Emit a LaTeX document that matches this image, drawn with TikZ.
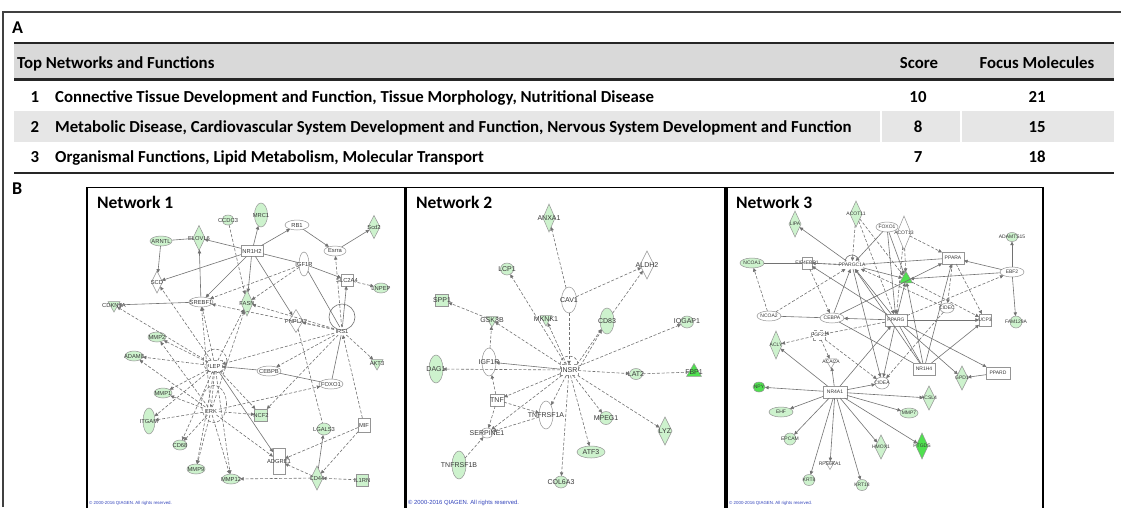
\documentclass[tikz,border=0pt]{standalone}
\usepackage{fontspec}
\setmainfont{Carlito}
\newfontfamily\lblfont{Liberation Sans}
\usetikzlibrary{shapes.geometric,arrows.meta}
\definecolor{lgr}{HTML}{CDF2CD}
\definecolor{bgr}{HTML}{4FE04F}
\definecolor{ndr}{HTML}{959595}
\definecolor{edg}{HTML}{727272}
\definecolor{hdr}{HTML}{D9D9D9}
\definecolor{rwb}{HTML}{E6E6E6}
\definecolor{cpy}{HTML}{3344BB}
\definecolor{ltx}{HTML}{383838}
\begin{document}
\begin{tikzpicture}[x=1pt,y=-1pt,
  nd/.style={inner sep=0pt,outer sep=0pt,line width=0.5pt,draw=ndr},
  lg/.style={nd,fill=lgr}, bg/.style={nd,fill=bgr}, wh/.style={nd,fill=white},
  hid/.style={inner sep=0pt,outer sep=0pt,minimum width=16pt,minimum height=8pt},
  elw/.style={ellipse,minimum width=24pt,minimum height=10pt},
  elt/.style={ellipse,minimum width=13pt,minimum height=26pt},
  els/.style={ellipse,minimum width=13pt,minimum height=11pt},
  dia/.style={diamond,minimum width=12pt,minimum height=26pt},
  rct/.style={rectangle,minimum width=22pt,minimum height=11pt},
  sq/.style={rectangle,minimum width=12pt,minimum height=12pt},
  tri/.style={regular polygon,regular polygon sides=3,shape border rotate=180,minimum size=14pt},
  trup/.style={regular polygon,regular polygon sides=3,minimum size=17pt},
  lbl/.style={font=\lblfont\fontsize{5.8}{6}\selectfont,text=ltx,inner sep=0pt},
  tx/.style={label={[lbl]center:#1}},
  sl/.style={draw=edg,line width=0.6pt},
  sla/.style={sl,-{Triangle[length=3.6pt,width=3.4pt]}},
  dl/.style={sl,dash pattern=on 3pt off 1.8pt},
  dla/.style={dl,-{Triangle[length=3.6pt,width=3.4pt]}},
  tbl/.style={font=\fontsize{16.8}{19}\selectfont\bfseries,inner sep=0pt},
  ttl/.style={font=\fontsize{17.5}{20}\selectfont\bfseries,inner sep=0pt,anchor=base west},
  cp/.style={font=\lblfont\fontsize{4.4}{5}\selectfont,text=cpy,inner sep=0pt,anchor=base west},
  panel/.style={draw=black,line width=1.6pt}
]
\useasboundingbox (0,0) rectangle (1121,507);
\fill[white] (0,0) rectangle (1121,507);
% frame
\draw[line width=1.1pt,black!75] (3,507) -- (3,12) -- (1121,12);
\node[font=\fontsize{18}{20}\selectfont\bfseries,inner sep=0pt,anchor=base west] (labA) at (12,33) {A};
\node[font=\fontsize{18}{20}\selectfont\bfseries,inner sep=0pt,anchor=base west] (labB) at (12,194) {B};
% table
\fill[hdr] (14,44) rectangle (1114,78);
\fill[rwb] (14,111) rectangle (879.5,142);
\fill[rwb] (881.5,111) rectangle (959.5,142);
\fill[rwb] (961.5,111) rectangle (1114,142);
\draw[line width=2pt,black!85] (14,43) -- (1114,43);
\draw[line width=2.6pt,black!85] (14,79.5) -- (1114,79.5);
\draw[line width=2pt,black!85] (14,173) -- (1114,173);
\node[tbl,anchor=base west] (hT) at (17,68.5) {Top Networks and Functions};
\node[tbl,anchor=base] (hS) at (919,68.5) {Score};
\node[tbl,anchor=base] (hF) at (1037,68.5) {Focus Molecules};
\node[tbl,anchor=base] (n1) at (35,102.5) {1};
\node[tbl,anchor=base west] (t1) at (55,102.5) {Connective Tissue Development and Function, Tissue Morphology, Nutritional Disease};
\node[tbl,anchor=base] (s1) at (918,102.5) {10};
\node[tbl,anchor=base] (f1) at (1037,102.5) {21};
\node[tbl,anchor=base] (n2) at (35,132.5) {2};
\node[tbl,anchor=base west] (t2) at (55,132.5) {Metabolic Disease, Cardiovascular System Development and Function, Nervous System Development and Function};
\node[tbl,anchor=base] (s2) at (918,132.5) {8};
\node[tbl,anchor=base] (f2) at (1037,132.5) {15};
\node[tbl,anchor=base] (n3) at (35,162.5) {3};
\node[tbl,anchor=base west] (t3) at (55,162.5) {Organismal Functions, Lipid Metabolism, Molecular Transport};
\node[tbl,anchor=base] (s3) at (918,162.5) {7};
\node[tbl,anchor=base] (f3) at (1037,162.5) {18};
% panels
\draw[panel] (87,508) -- (87,187.5) -- (405,187.5) -- (405,508);
\draw[panel] (406.5,508) -- (406.5,187.5) -- (725,187.5) -- (725,508);
\draw[panel] (727,508) -- (727,187.5) -- (1043,187.5) -- (1043,508);
\node[ttl] (ttl1) at (97,208) {Network 1};
\node[ttl] (ttl2) at (416,208) {Network 2};
\node[ttl] (ttl3) at (736,208) {Network 3};
\node[cp] (cp1) at (89,504) {\textcopyright{} 2000-2016 QIAGEN. All rights reserved.};
\node[cp,font=\lblfont\fontsize{5.9}{6}\selectfont] (cp2) at (408,504.5) {\textcopyright{} 2000-2016 QIAGEN. All rights reserved.};
\node[cp] (cp3) at (729,504) {\textcopyright{} 2000-2016 QIAGEN. All rights reserved.};

% ---------------- Network 1 ----------------
\begin{scope}
\node[lg,els,minimum width=12pt,minimum height=10pt,tx=CCDC3] (a1) at (228,220) {};
\node[lg,elt,minimum height=24pt,tx=MRC1] (a2) at (261,215) {};
\node[wh,elw,tx=RB1] (a3) at (297,225) {};
\node[lg,dia,minimum height=23pt,tx=Scd2] (a4) at (374,227) {};
\node[lg,elw,minimum width=22pt,tx=ARNTL] (a5) at (161,241) {};
\node[lg,dia,minimum height=25pt,tx=ELOVL6] (a6) at (199,238) {};
\node[wh,rct,tx=NR1H2] (a7) at (252,251) {};
\node[wh,elw,minimum width=22pt,tx=Esrra] (a8) at (335,251) {};
\node[wh,elt,minimum width=10pt,minimum height=24pt,tx=IGF1R] (a9) at (304,264) {};
\node[wh,dia,minimum width=11pt,minimum height=22pt,tx=SCD] (a10) at (157,282) {};
\node[wh,sq,tx=SLC2A4] (a11) at (347,280) {};
\node[lg,els,minimum width=15pt,minimum height=10pt,tx=LNPEP] (a12) at (381,288) {};
\node[lg,tri,tx=CDKN1A] (a13) at (114,305) {};
\node[wh,elw,tx=SREBF1] (a14) at (201,302) {};
\node[lg,dia,tx=FASN] (a15) at (247,303) {};
\node[wh,dia,minimum width=14pt,minimum height=23pt,tx=PNPLA2] (a16) at (296,321) {};
\node[hid,tx=IRS1] (a17) at (342,331) {};
\node[lg,elw,minimum width=18pt,tx=MMP2] (a18) at (157,337) {};
\node[lg,elw,minimum width=18pt,tx=ADAM8] (a19) at (134,356) {};
\node[lg,tri,tx=AKT3] (a20) at (377,363) {};
\node[wh,rectangle,dashed,minimum width=14pt,minimum height=11pt,tx=LEP] (a21) at (215,366) {};
\node[wh,elw,tx=CEBPB] (a22) at (269,371) {};
\node[wh,elw,tx=FOXO1] (a23) at (331,384) {};
\node[lg,elw,minimum width=18pt,tx=MMP1] (a24) at (163,393) {};
\node[hid,tx=ERK] (a25) at (211,411) {};
\node[lg,elt,minimum width=12pt,tx=ITGAM] (a26) at (149,421) {};
\node[lg,sq,minimum width=13pt,tx=NCF2] (a27) at (261,415) {};
\node[lg,els,minimum width=14pt,minimum height=12pt,tx=LGALS3] (a28) at (324,429) {};
\node[wh,sq,minimum height=14pt,tx=MIF] (a29) at (364,425) {};
\node[lg,els,minimum width=14pt,minimum height=10pt,tx=CD68] (a30) at (180,445) {};
\node[wh,rectangle,minimum width=12pt,minimum height=26pt,tx=ADGRE1] (a31) at (279,461) {};
\node[lg,elw,minimum width=18pt,tx=MMP9] (a32) at (196,469) {};
\node[lg,elw,minimum width=18pt,tx=MMP12] (a33) at (231,479) {};
\node[lg,dia,minimum height=24pt,tx=CD44] (a34) at (317,478) {};
\node[lg,sq,tx=IL1RN] (a35) at (362,480) {};
\draw[sl] (a17.center) ++(0,-14) circle[radius=13pt];
\draw[dl] (a21.center) ++(0,-5) circle[radius=12pt];
\draw[dl] (a25.center) ++(3,-7) ellipse[x radius=12.5pt,y radius=18.5pt];
\draw[sla] (a7) -- (a6);  \draw[sl] (a5) -- (a6);   \draw[sla] (a5) -- (a10);
\draw[sla] (a7) -- (a2);  \draw[sla] (a7) -- (a3);  \draw[sla] (a3) -- (a8);
\draw[sla] (a8) -- (a4);  \draw[sla] (a7) -- (a10); \draw[sla] (a7) -- (a14);
\draw[sla] (a7) -- (a15); \draw[sla] (a7) -- (a16); \draw[sl] (a7) -- (a9);
\draw[sla] (a9) -- (a11); \draw[dla] (a11) -- (a12); \draw[sla] (a14) -- (a6);
\draw[sla] (a14) -- (a13); \draw[sl] (a9) -- (a17); \draw[sla] (a17) -- (a11);
\draw[dla] (a17) -- (a20); \draw[sl] (a23) -- (a17); \draw[sla] (a22) -- (a21);
\draw[sl] (a23) -- (a22); \draw[dla] (a1) -- (a15); \draw[dla] (a9) -- (a14);
\draw[dla] (a9) -- (a15); \draw[dla] (a17) -- (a8); \draw[dla] (a17) -- (a15);
\draw[dla] (a17) -- (a14); \draw[dla] (a17) -- (a16);
\draw[dla] (a21) -- (a14); \draw[dla] (a21) -- (a15); \draw[dla] (a21) -- (a10);
\draw[dla] (a21) -- (a13); \draw[dla] (a21) -- (a18); \draw[dla] (a21) -- (a19);
\draw[dla] (a21) -- (a24); \draw[dla] (a21) -- (a26); \draw[dla] (a21) -- (a30);
\draw[dla] (a21) -- (a32); \draw[dla] (a21) -- (a33); \draw[dla] (a21) -- (a27);
\draw[sla] (a21) -- (a31); \draw[dla] (a17) -- (a21);
\draw[dla] (a25) -- (a18); \draw[dla] (a25) -- (a19); \draw[dla] (a25) -- (a24);
\draw[dla] (a25) -- (a26); \draw[dla] (a25) -- (a30); \draw[dla] (a25) -- (a32);
\draw[dla] (a25) -- (a33); \draw[dla] (a25) -- (a14); \draw[dla] (a25) -- (a15);
\draw[dla] (a25) -- (a27); \draw[dla] (a25) -- (a31); \draw[dla] (a25) -- (a23);
\draw[dla] (a17) -- (a22); \draw[dla] (a17) -- (a27); \draw[dl] (a16) -- (a28);
\draw[dla] (a29) -- (a17); \draw[dla] (a29) -- (a31); \draw[dla] (a29) -- (a34);
\draw[sla] (a34) -- (a28); \draw[dla] (a34) -- (a31); \draw[dla] (a34) -- (a33);
\draw[dla] (a35) -- (a34); \draw[dl] (a21) -- (a25);
\end{scope}

% ---------------- Network 2 ----------------
\begin{scope}[lbl/.append style={font=\lblfont\fontsize{7}{8}\selectfont}]
\node[lg,dia,minimum height=28pt,tx=ANXA1] (b1) at (549,218) {};
\node[wh,dia,minimum width=14pt,minimum height=28pt,tx=ALDH2] (b2) at (647,265) {};
\node[lg,els,minimum height=12pt,tx=LCP1] (b3) at (507,269) {};
\node[wh,elt,minimum width=15pt,tx=CAV1] (b4) at (569,300) {};
\node[lg,sq,minimum width=13pt,tx=SPP1] (b5) at (442,300) {};
\node[lg,tri,tx=GSK3B] (b6) at (492,320) {};
\node[lg,tri,tx=MKNK1] (b7) at (546,319) {};
\node[lg,elt,minimum width=14pt,tx=CD83] (b8) at (607,321) {};
\node[lg,els,minimum height=12pt,tx=IQGAP1] (b9) at (687,322) {};
\node[wh,elt,minimum width=14pt,minimum height=28pt,tx=IGF1R] (b10) at (489,362) {};
\node[lg,elt,minimum width=14pt,minimum height=28pt,tx=DAG1] (b11) at (436,369) {};
\node[wh,rectangle,dashed,minimum width=18pt,minimum height=11pt,tx=INSR] (b12) at (569,370) {};
\node[lg,els,tx=LAT2] (b13) at (636,374) {};
\node[bg,trup,tx=FBP1] (b14) at (694,372) {};
\node[wh,sq,minimum width=14pt,tx=TNF] (b15) at (497,400) {};
\node[wh,elt,minimum width=14pt,minimum height=28pt,tx=TNFRSF1A] (b16) at (546,415) {};
\node[lg,els,minimum height=13pt,tx=MPEG1] (b17) at (606,418) {};
\node[lg,dia,minimum width=14pt,minimum height=28pt,tx=LYZ] (b18) at (665,431) {};
\node[wh,els,minimum width=12pt,minimum height=10pt,tx=SERPINE1] (b19) at (487,433) {};
\node[lg,elw,minimum width=28pt,minimum height=12pt,tx=ATF3] (b20) at (591,452) {};
\node[lg,elt,minimum width=14pt,minimum height=28pt,tx=TNFRSF1B] (b21) at (459,465) {};
\node[lg,els,minimum height=12pt,tx=COL6A3] (b22) at (561,482) {};
\draw[dl] (b12.north west) to[out=90,in=90,looseness=1.6] (b12.north east);
\draw[dla] (b4) -- (b1);  \draw[dla] (b4) -- (b2);  \draw[dla] (b8) -- (b2);
\draw[dla] ([xshift=-1pt]b12.north east) -- (b8); \draw[dla] (b12.east) -- (b8);
\draw[dla] (b4) -- (b12); \draw[dla] (b12) -- (b3); \draw[dla] (b12) -- (b7);
\draw[dla] (b12) -- (b6); \draw[dla] (b6) -- (b5);  \draw[dla] (b10) -- (b6);
\draw[sla] (b12) -- (b10); \draw[dla] (b12) -- (b11); \draw[dla] (b12) -- (b9);
\draw[dla] (b12) -- (b13); \draw[dl] (b13) -- (b14); \draw[dla] (b12) -- (b18);
\draw[dla] (b12) -- (b17); \draw[dla] (b12) -- (b20); \draw[dla] (b12) -- (b22);
\draw[dla] (b12) -- (b16); \draw[dla] (b12) -- (b15); \draw[dla] (b12) -- (b19);
\draw[dla] (b15) -- (b10); \draw[dla] (b15) -- (b19); \draw[dla] (b15) -- (b16);
\draw[dla] (b16) -- (b19); \draw[dla] (b21) -- (b19);
\end{scope}

% ---------------- Network 3 ----------------
\begin{scope}[lbl/.append style={font=\lblfont\fontsize{5}{6}\selectfont}]
\node[lg,dia,tx=ACOT11] (c1) at (856,214) {};
\node[lg,dia,tx=LIPA] (c2) at (795,224) {};
\node[wh,elw,minimum width=22pt,tx=FOXO1] (c3) at (887,227) {};
\node[wh,dia,minimum width=14pt,minimum height=34pt,tx=ACOT13] (c4) at (904,233) {};
\node[lg,els,minimum width=12pt,minimum height=9pt,tx=ADAMTS15] (c5) at (1012,237) {};
\node[lg,elw,tx=NCOA1] (c6) at (752,263) {};
\node[wh,sq,minimum width=10pt,tx=EIF4EBP1] (c7) at (807,263) {};
\node[hid,minimum width=22pt,tx=PPARGC1A] (c8) at (852,265) {};
\node[wh,rct,minimum height=12pt,tx=PPARA] (c9) at (953,258) {};
\node[wh,elw,tx=EBF2] (c10) at (1012,272) {};
\node[bg,trup,minimum size=15pt] (c11) at (906,279) {};
\node[wh,elw,tx=NCOA2] (c12) at (769,316) {};
\node[wh,elw,tx=CEBPA] (c13) at (832,318) {};
\node[wh,rct,minimum height=12pt,tx=PPARG] (c14) at (896,320) {};
\node[wh,els,minimum width=14pt,minimum height=10pt,tx=CIDEC] (c15) at (947,308) {};
\node[wh,sq,tx=UCP3] (c16) at (985,320) {};
\node[lg,els,minimum width=12pt,minimum height=12pt,tx=FAM129A] (c17) at (1016,322) {};
\node[wh,rectangle,dashed,minimum width=12pt,minimum height=10pt,tx=FGF21] (c18) at (819,335) {};
\node[lg,dia,minimum height=28pt,tx=ACLY] (c19) at (776,345) {};
\node[wh,tri,minimum size=13pt,tx=ACACA] (c20) at (831,362) {};
\node[wh,rct,minimum height=12pt,tx=NR1H4] (c21) at (924,369) {};
\node[wh,rct,minimum width=24pt,minimum height=12pt,tx=PPARD] (c22) at (998,373) {};
\node[lg,dia,minimum height=24pt,tx=GPD1] (c23) at (962,378) {};
\node[wh,els,minimum width=14pt,minimum height=12pt,tx=CIDEA] (c24) at (882,383) {};
\node[bg,els,minimum width=12pt,minimum height=10pt,tx=NPY] (c25) at (759,387) {};
\node[wh,rct,minimum width=24pt,minimum height=12pt,tx=NR4A1] (c26) at (835,392) {};
\node[lg,dia,minimum height=24pt,tx=ACSL4] (c27) at (929,398) {};
\node[lg,elw,tx=EHF] (c28) at (781,412) {};
\node[lg,els,minimum width=18pt,minimum height=10pt,tx=MMP7] (c29) at (909,413) {};
\node[lg,els,minimum width=12pt,minimum height=12pt,tx=EPCAM] (c30) at (790,439) {};
\node[lg,dia,minimum height=24pt,tx=HMOX1] (c31) at (881,447) {};
\node[bg,dia,tx=PTGDS] (c32) at (922,446) {};
\node[wh,tri,minimum size=11pt,tx=RPS6KA1] (c33) at (830,464) {};
\node[lg,els,minimum width=12pt,minimum height=11pt,tx=KRT8] (c34) at (809,480) {};
\node[lg,els,minimum width=12pt,minimum height=11pt,tx=KRT18] (c35) at (862,485) {};
\draw[sl] (c8.center) ++(-7,-3) arc[start angle=180,end angle=0,radius=7pt];
\draw[sla] (c8) -- (c2);  \draw[dla] (c1) -- (c8);  \draw[dla] (c1) -- (c11);
\draw[dla] (c1) -- (c14); \draw[sla] (c3) -- (c8);  \draw[sla] (c3) -- (c11);
\draw[sla] (c3) -- (c14); \draw[dla] (c4) -- (c11); \draw[dla] (c4) -- (c9);
\draw[dla] (c4) -- (c14); \draw[sl] (c6) -- (c7);   \draw[sl] (c7) -- (c8);
\draw[sl] (c8) -- (c9);   \draw[dla] (c8) -- (c7);  \draw[sla] (c10) -- (c9);
\draw[sla] (c10) -- (c11); \draw[sla] (c10) -- (c5); \draw[sla] (c10) -- (c17);
\draw[sla] (c8) -- (c11); \draw[dla] (c12) -- (c6); \draw[dla] (c12) -- (c8);
\draw[sl] (c12) -- (c13); \draw[sla] (c13) -- (c8); \draw[sla] (c14) -- (c13);
\draw[sla] (c14) -- (c16); \draw[dla] (c7) -- (c13); \draw[sla] (c14) -- (c8);
\draw[sla] (c14) -- (c11); \draw[sla] (c14) -- (c7); \draw[dla] (c15) -- (c8);
\draw[dla] (c9) -- (c15); \draw[dla] (c9) -- (c16); \draw[dla] (c11) -- (c16);
\draw[dla] (c18) -- (c19); \draw[dla] (c14) -- (c18); \draw[dla] (c18) -- (c20);
\draw[dla] (c18) -- (c24); \draw[sla] (c26) -- (c19); \draw[sla] (c26) -- (c14);
\draw[sla] (c26) -- (c20); \draw[sla] (c26) -- (c25); \draw[sla] (c26) -- (c28);
\draw[sla] (c26) -- (c30); \draw[sla] (c26) -- (c34); \draw[sla] (c26) -- (c33);
\draw[sla] (c26) -- (c35); \draw[sla] (c26) -- (c31); \draw[sla] (c26) -- (c32);
\draw[sla] (c26) -- (c29); \draw[sla] (c26) -- (c27); \draw[sla] (c26) -- (c24);
\draw[sla] (c14) -- (c24); \draw[sla] (c14) -- (c23); \draw[sla] (c14) -- (c22);
\draw[sla] (c22) -- (c23); \draw[sl] (c21) -- (c14); \draw[sla] (c21) -- (c16);
\draw[sla] (c21) -- (c11); \draw[sla] (c21) -- (c8); \draw[sl] (c21) -- (c13);
\draw[dla] (c15) -- (c24); \draw[sla] (c21) -- (c9); \draw[dla] (c14) -- (c10);
\draw[sla] (c8) -- (c24); \draw[sla] (c13) -- (c9);
\end{scope}
\end{tikzpicture}
\end{document}
